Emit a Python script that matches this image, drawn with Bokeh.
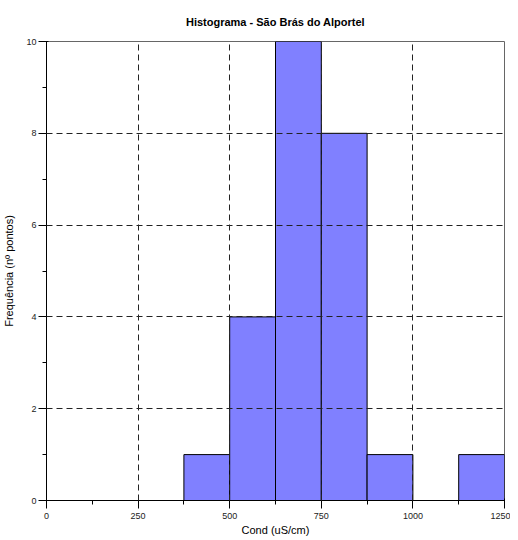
from bokeh.plotting import figure
from bokeh.embed import file_html
from bokeh.resources import INLINE
from bokeh.models import FixedTicker, Range1d

bin_left = [375, 500, 625, 750, 875, 1000, 1125]
bin_right = [500, 625, 750, 875, 1000, 1125, 1250]
counts = [1, 4, 10, 8, 1, 0, 1]
x_ticks = [0, 250, 500, 750, 1000, 1250]
y_ticks = [0, 2, 4, 6, 8, 10]

FONT = "Liberation Sans"

p = figure(width=502, height=524, output_backend="svg", toolbar_location=None,
           x_range=Range1d(0, 1250), y_range=Range1d(0, 10),
           title="Histograma - São Brás do Alportel",
           min_border_left=38, min_border_right=6, min_border_top=0, min_border_bottom=0)
p.frame_width = 458
p.frame_height = 459

p.title.text_font = FONT
p.title.text_font_size = "11px"
p.title.text_font_style = "bold"
p.title.text_color = "black"
p.title.align = "center"
p.title.offset = 0
p.title.standoff = 27

p.quad(left=bin_left, right=bin_right, bottom=0, top=counts,
       fill_color="#8080FF", line_color="black", line_width=1)

p.xaxis.ticker = FixedTicker(ticks=x_ticks, minor_ticks=[125, 375, 625, 875, 1125])
p.yaxis.ticker = FixedTicker(ticks=y_ticks, minor_ticks=[1, 3, 5, 7, 9])
for ax in (p.xaxis, p.yaxis):
    ax.major_label_text_font = FONT
    ax.major_label_text_font_size = "9px"
    ax.major_label_text_color = "#222222"
    ax.axis_label_text_font = FONT
    ax.axis_label_text_font_size = "11px"
    ax.axis_label_text_font_style = "normal"
    ax.axis_label_text_color = "black"
    ax.axis_line_color = "black"
    ax.major_tick_line_color = "black"
    ax.minor_tick_line_color = "black"
    ax.major_tick_out = 8
    ax.major_tick_in = 2
    ax.minor_tick_out = 4
    ax.minor_tick_in = 0

p.xaxis.major_label_standoff = 4
p.yaxis.major_label_standoff = 2
p.xaxis.axis_label = "Cond (uS/cm)"
p.yaxis.axis_label = "Frequência (nº pontos)"
p.xaxis.axis_label_standoff = 2
p.yaxis.axis_label_standoff = 8

p.xgrid.ticker = FixedTicker(ticks=[250, 500, 750, 1000])
p.ygrid.ticker = FixedTicker(ticks=[2, 4, 6, 8])
for g in (p.xgrid, p.ygrid):
    g.grid_line_color = "#222222"
    g.grid_line_dash = "6 4"
    g.grid_line_width = 1
    g.level = "overlay"

p.outline_line_color = "#666666"
p.outline_line_width = 1
p.background_fill_color = "white"
p.border_fill_color = "white"

open("out.html", "w").write(file_html(p, INLINE))
